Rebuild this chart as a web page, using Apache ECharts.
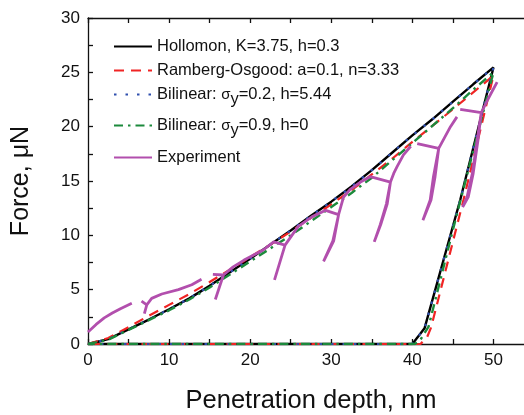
<!DOCTYPE html>
<html>
<head>
<meta charset="utf-8">
<script src="https://cdn.jsdelivr.net/npm/echarts@6/dist/echarts.min.js"></script>
<style>
html,body{margin:0;padding:0;background:#fff;}
#chart{width:524px;height:415px;}
</style>
</head>
<body>
<div id="chart"></div>
<script>
// ---- data ----
const seriesNames = [
  'Hollomon, K=3.75, h=0.3',
  'Ramberg-Osgood: a=0.1, n=3.33',
  'Bilinear: σy=0.2, h=5.44',
  'Bilinear: σy=0.9, h=0',
  'Experiment'
];
const xTicks = [0, 10, 20, 30, 40, 50];
const yTicks = [0, 5, 10, 15, 20, 25, 30];

// loading branch depths (nm)
const loadDepth = [0, 2.5, 5, 7.5, 10, 12.5, 15, 17.5, 20, 22.5, 25, 27.5, 30, 32.5, 35, 37.5, 40, 42.5, 45, 47.5, 50];
const hollomonLoad = [0, 0.45, 1.35, 2.25, 3.2, 4.2, 5.35, 6.6, 7.85, 9.15, 10.45, 11.8, 13.1, 14.5, 16.0, 17.6, 19.2, 20.7, 22.3, 23.9, 25.45];
const rambergLoad  = [0, 0.55, 1.55, 2.6, 3.6, 4.6, 5.7, 6.85, 8.0, 9.15, 10.35, 11.6, 12.85, 14.15, 15.6, 17.05, 18.6, 20.1, 21.6, 23.15, 24.7];
const bilin02Load  = [0, 0.45, 1.35, 2.25, 3.2, 4.2, 5.35, 6.6, 7.85, 9.15, 10.45, 11.8, 13.1, 14.5, 16.0, 17.6, 19.2, 20.7, 22.3, 23.9, 25.45];
const bilin09Load  = [0, 0.4, 1.3, 2.2, 3.1, 4.1, 5.2, 6.4, 7.6, 8.8, 10.0, 11.3, 12.6, 13.9, 15.3, 16.9, 18.5, 20.1, 21.7, 23.4, 25.0];

// unloading branches (depth, force), then back along zero force
const hollomonUnloadDepth = [50, 45.9, 41.5, 40.0, 0];
const hollomonUnloadForce = [25.45, 13.25, 1.44, 0, 0];
const rambergUnloadDepth  = [50, 46.3, 43.5, 42.3, 41.8, 41.0, 0];
const rambergUnloadForce  = [24.7, 13.25, 5.0, 1.5, 0.6, 0, 0];
const bilin02UnloadDepth  = [50, 45.9, 41.5, 40.0, 0];
const bilin02UnloadForce  = [25.45, 13.25, 1.44, 0, 0];
const bilin09UnloadDepth  = [50, 45.1, 42.0, 41.0, 40.3, 0];
const bilin09UnloadForce  = [25.0, 10.8, 1.6, 0.4, 0, 0];

// experiment (null = gap in the recorded curve)
const expDepth = [0, 1, 2, 3, 4, 5.4, null,
  6.6, 7.25, 6.95, 7.25, 7.85, 9.1, 11.15, 12.8, 14.0, null,
  15.4, 16.7, 15.7, 16.7, 17.9, 19.2, 21.6, 22.9, 24.3, 23.0, 24.3, 25.9, 27.6, 29.3,
  30.9, 30.2, 29.05, 30.3, 30.9, 31.5, 32.3, 33.6, 34.8, 37.3, 36.8, 36.05, 35.3, 36.1, 36.9, 37.3,
  37.7, 38.1, 38.9, 39.8, null,
  40.6, 43.25, 42.6, 42.2, 41.3, 42.3, 42.8, 43.25, 44.7, 45.5, null,
  45.9, 48.5, 48.0, 47.4, 46.75, 46.2, 46.9, 47.5, 48.1, 48.5, 49.3, 50.45];
const expForce = [1.1, 1.8, 2.4, 2.85, 3.25, 3.75, null,
  3.95, 3.6, 2.8, 3.6, 4.2, 4.6, 5.0, 5.45, 5.95, null,
  6.4, 6.35, 4.1, 6.35, 7.1, 7.7, 8.65, 9.4, 9.1, 5.9, 9.1, 10.8, 11.7, 12.3,
  11.9, 9.5, 7.6, 9.5, 11.9, 13.5, 14.2, 14.9, 15.4, 14.9, 12.9, 11.0, 9.4, 11.0, 12.9, 14.9,
  15.7, 16.3, 17.4, 18.2, null,
  18.45, 18.0, 15.4, 13.25, 11.4, 13.25, 15.4, 18.0, 20.0, 20.9, null,
  21.6, 21.3, 18.8, 15.7, 13.55, 12.6, 13.55, 15.7, 18.8, 21.3, 22.5, 24.1];

// ---- build ----
function pairs(xs, ys) { return xs.map((x, i) => [x, ys[i]]); }
function modelData(ld, lf, ud, uf) { return pairs(ld, lf).concat(pairs(ud, uf).slice(1)); }
const expData = expDepth.map((x, i) => (x === null ? ['-', '-'] : [x, expForce[i]]));

const FONT = "'Liberation Sans', Arial, sans-serif";
const colors = ['#000000', '#f02424', '#2f4fae', '#1c8a3c', '#b24fad'];

const series = [
  { name: seriesNames[0], data: modelData(loadDepth, hollomonLoad, hollomonUnloadDepth, hollomonUnloadForce),
    lineStyle: { color: colors[0], width: 2.4, type: 'solid' } },
  { name: seriesNames[1], data: modelData(loadDepth, rambergLoad, rambergUnloadDepth, rambergUnloadForce),
    lineStyle: { color: colors[1], width: 2.2, type: [10, 7] } },
  { name: seriesNames[2], data: modelData(loadDepth, bilin02Load, bilin02UnloadDepth, bilin02UnloadForce),
    lineStyle: { color: colors[2], width: 2.2, type: [2.5, 9] } },
  { name: seriesNames[3], data: modelData(loadDepth, bilin09Load, bilin09UnloadDepth, bilin09UnloadForce),
    lineStyle: { color: colors[3], width: 2.4, type: [9, 5, 2.5, 5] } },
  { name: seriesNames[4], data: expData,
    lineStyle: { color: colors[4], width: 2.8, type: 'solid' } }
].map((s, i) => Object.assign({
  type: 'line', showSymbol: false, symbol: 'none', connectNulls: false,
  itemStyle: { color: colors[i] }, z: 2 + i, silent: true
}, s));

const legendTops = [38, 62, 86, 117, 149];
const legends = seriesNames.map((n, i) => ({
  data: [n], left: 113, top: legendTops[i], padding: 0,
  itemWidth: 38, itemHeight: 14, itemGap: 4,
  selectedMode: false,
  itemStyle: { color: 'rgba(0,0,0,0)', borderColor: 'rgba(0,0,0,0)', borderWidth: 0, opacity: 0 },
  textStyle: {
    fontFamily: FONT, fontSize: 16.5, color: '#111',
    rich: {
      sub: { fontFamily: FONT, fontSize: 16.5, color: '#111', padding: [10, 0, 0, 0] },
      g: { fontFamily: FONT, fontSize: 15, color: '#111' }
    }
  },
  formatter: name => name.replace('σy', '{g|σ}{sub|y}')
}));

const axisLineStyle = { color: '#111', width: 1.3 };
const option = {
  animation: false,
  backgroundColor: '#fff',
  grid: { left: 88, top: 18, right: -10, bottom: 71, containLabel: false, outerBoundsMode: 'none' },
  legend: legends,
  xAxis: [
    { type: 'value', min: 0, max: 55, interval: 5, position: 'bottom',
      name: 'Penetration depth, nm', nameLocation: 'middle', nameGap: 44,
      nameTextStyle: { fontFamily: FONT, fontSize: 25.5, color: '#111' },
      axisLine: { show: true, onZero: false, lineStyle: axisLineStyle },
      axisTick: { show: true, inside: true, length: 5, lineStyle: axisLineStyle },
      axisLabel: { fontFamily: FONT, fontSize: 17, color: '#111', margin: 8,
        formatter: v => (xTicks.indexOf(v) >= 0 ? String(v) : '') },
      splitLine: { show: false } },
    { type: 'value', min: 0, max: 55, interval: 5, position: 'top',
      axisLine: { show: true, onZero: false, lineStyle: axisLineStyle },
      axisTick: { show: true, inside: true, length: 5, lineStyle: axisLineStyle },
      axisLabel: { show: false }, splitLine: { show: false } }
  ],
  yAxis: [
    { type: 'value', min: 0, max: 30, interval: 2.5,
      name: 'Force, μN', nameLocation: 'middle', nameGap: 54,
      nameTextStyle: { fontFamily: FONT, fontSize: 25, color: '#111' },
      axisLine: { show: true, onZero: false, lineStyle: axisLineStyle },
      axisTick: { show: true, inside: true, length: 5, lineStyle: axisLineStyle },
      axisLabel: { fontFamily: FONT, fontSize: 17, color: '#111', margin: 8,
        formatter: v => (yTicks.indexOf(v) >= 0 ? String(v) : '') },
      splitLine: { show: false } }
  ],
  series: series
};

const chart = echarts.init(document.getElementById('chart'), null, { renderer: 'canvas' });
chart.setOption(option);
</script>
</body>
</html>
